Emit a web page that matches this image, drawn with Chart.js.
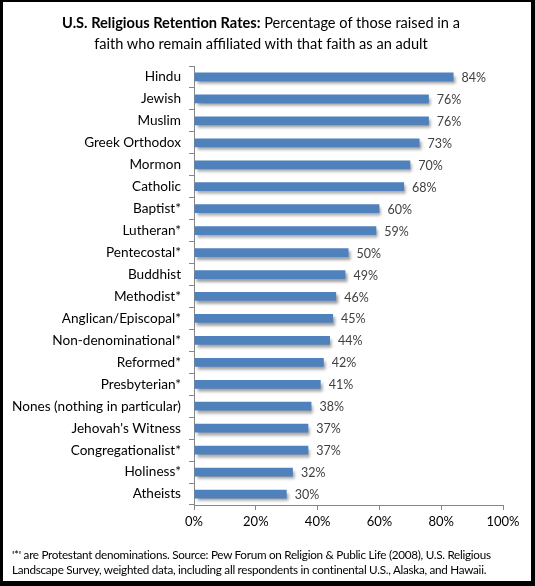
<!DOCTYPE html>
<html>
<head>
<meta charset="utf-8">
<script src="https://cdn.jsdelivr.net/npm/chart.js@4/dist/chart.umd.min.js"></script>
<style>
  html, body { margin: 0; padding: 0; background: #fff; }
  #page { position: relative; width: 535px; height: 586px; overflow: hidden; font-family: Lato, sans-serif; }
  #frame { position: absolute; left: 0; top: 0; right: 0; bottom: 0; pointer-events: none;
           border-style: solid; border-color: #000; border-width: 2px 4px 5px 3px; }
  #title { position: absolute; left: 0; width: 522px; top: 12px; text-align: center;
           font-size: 14.6px; line-height: 21px; color: #000; }
  #note { position: absolute; left: 12px; top: 547px; font-size: 11.7px; line-height: 15px;
          color: #000; white-space: nowrap; letter-spacing: -0.28px; }
  canvas { position: absolute; left: 0; top: 0; }
</style>
</head>
<body>
<div id="page">
  <canvas id="chart" width="535" height="586"></canvas>
  <div id="title"><b>U.S. Religious Retention Rates:</b> Percentage of those raised in a<br>faith who remain affiliated with that faith as an adult</div>
  <div id="note">'*' are Protestant denominations. Source: Pew Forum on Religion &amp; Public Life (2008), U.S. Religious<br>Landscape Survey, weighted data, including all respondents in continental U.S., Alaska, and Hawaii.</div>
  <div id="frame"></div>
</div>
<script>
// retention rates (percent)
const faiths = [
  'Hindu', 'Jewish', 'Muslim', 'Greek Orthodox', 'Mormon', 'Catholic',
  'Baptist*', 'Lutheran*', 'Pentecostal*', 'Buddhist', 'Methodist*',
  'Anglican/Episcopal*', 'Non-denominational*', 'Reformed*', 'Presbyterian*',
  'Nones (nothing in particular)', "Jehovah's Witness", 'Congregationalist*',
  'Holiness*', 'Atheists'
];
const retention = [84, 76, 76, 73, 70, 68, 60, 59, 50, 49, 46, 45, 44, 42, 41, 38, 37, 37, 32, 30];
const xTicks = [0, 20, 40, 60, 80, 100];

// soft drop shadow under the bars, like the excel original
const barShadow = {
  id: 'barShadow',
  beforeDatasetsDraw (chart) {
    const ctx = chart.ctx;
    ctx.save();
    ctx.shadowColor = 'rgba(0,0,0,0.38)';
    ctx.shadowBlur = 3;
    ctx.shadowOffsetX = 2;
    ctx.shadowOffsetY = 3;
  },
  afterDatasetsDraw (chart) {
    chart.ctx.restore();
  }
};

const valueLabels = {
  id: 'valueLabels',
  afterDatasetsDraw (chart) {
    const ctx = chart.ctx;
    const meta = chart.getDatasetMeta(0);
    ctx.save();
    ctx.font = '12.5px Lato, sans-serif';
    ctx.fillStyle = '#404040';
    ctx.textBaseline = 'middle';
    ctx.textAlign = 'left';
    meta.data.forEach((bar, i) => {
      ctx.fillText(retention[i] + '%', bar.x + 8, bar.y + 1);
    });
    ctx.restore();
  }
};

new Chart(document.getElementById('chart'), {
  type: 'bar',
  data: {
    labels: faiths,
    datasets: [{
      data: retention,
      backgroundColor: '#4F81BD',
      borderWidth: 0,
      barPercentage: 0.4,
      categoryPercentage: 1
    }]
  },
  plugins: [barShadow, valueLabels],
  options: {
    indexAxis: 'y',
    responsive: false,
    animation: false,
    devicePixelRatio: 1,
    layout: { padding: { left: 0, top: 66, right: 32, bottom: 51 } },
    plugins: { legend: { display: false }, tooltip: { enabled: false } },
    scales: {
      x: {
        min: 0,
        max: 100,
        afterBuildTicks (scale) {
          scale.ticks = xTicks.map(v => ({ value: v }));
        },
        afterFit (scale) { scale.height = 30; },
        grid: { drawOnChartArea: false, tickLength: 5, color: '#868686' },
        border: { color: '#868686' },
        ticks: {
          padding: 4,
          color: '#000',
          font: { family: 'Lato', size: 13 },
          callback: v => v + '%'
        }
      },
      y: {
        afterFit (scale) { scale.width = 194; },
        grid: { drawOnChartArea: false, offset: true, tickLength: 5, color: '#868686' },
        border: { color: '#868686' },
        ticks: {
          padding: 8,
          color: '#000',
          autoSkip: false,
          font: { family: 'Lato', size: 13.6 }
        }
      }
    }
  }
});
</script>
</body>
</html>
